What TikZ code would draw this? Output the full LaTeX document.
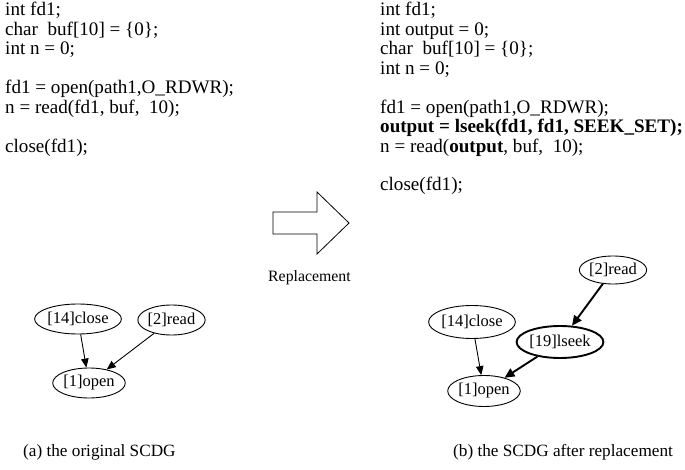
\documentclass[tikz,border=0pt]{standalone}
\usepackage{fontspec}
\setmainfont{Liberation Serif}
\usetikzlibrary{arrows.meta,shapes.geometric}

\tikzset{
  codeline/.style={anchor=base west, inner sep=0pt, font=\fontsize{19.1}{19.45}\selectfont},
  smalltext/.style={anchor=base west, inner sep=0pt, font=\fontsize{15.8}{18}\selectfont},
  captext/.style={anchor=base west, inner sep=0pt, font=\fontsize{17.2}{19}\selectfont},
  opnode/.style={draw, ellipse, line width=0.9pt, inner sep=0pt,
                 font=\fontsize{16.5}{18}\selectfont},
  thicknode/.style={opnode, line width=1.9pt},
  edge/.style={-{Triangle[length=9pt,width=7.5pt]}, line width=0.9pt},
  thickedge/.style={edge, line width=1.9pt, -{Triangle[length=10pt,width=9pt]}},
}

\begin{document}
\begin{tikzpicture}[x=1pt, y=-1pt]
  \useasboundingbox (0,0) rectangle (685,470);

  % original code
  \node[codeline] (la) at (5,16)    {int fd1;};
  \node[codeline] (lb) at (5,35.5)  {char\ \ buf[10] = \{0\};};
  \node[codeline] (lc) at (5,55)    {int n = 0;};
  \node[codeline] (ld) at (5,93.8)  {fd1 = open(path1,O\_RDWR);};
  \node[codeline] (le) at (5,113.3) {n = read(fd1, buf,\ \ 10);};
  \node[codeline] (lf) at (5,152.2) {close(fd1);};

  % code after replacement
  \node[codeline] (ra) at (380,16)    {int fd1;};
  \node[codeline] (rb) at (380,35.5)  {int output = 0;};
  \node[codeline] (rc) at (380,55)    {char\ \ buf[10] = \{0\};};
  \node[codeline] (rd) at (380,74.4)  {int n = 0;};
  \node[codeline] (re) at (380,113.3) {fd1 = open(path1,O\_RDWR);};
  \node[codeline] (rf) at (380,132.7) {\textbf{output = lseek(fd1, fd1, SEEK\_SET);}};
  \node[codeline] (rg) at (380,152.2) {n = read(\textbf{output}, buf,\ \ 10);};
  \node[codeline] (rh) at (380,191)   {close(fd1);};

  % block arrow
  \draw[line width=0.8pt, line join=miter]
    (273,212) -- (317,212) -- (317,192) -- (349,223) -- (317,254) -- (317,234) -- (273,234) -- cycle;
  \node[smalltext] (rep) at (268,282) {Replacement};

  % original SCDG
  \node[opnode, minimum width=74pt, minimum height=30pt] (close1) at (78,319) {[14]close};
  \node[opnode, minimum width=57pt, minimum height=30pt] (read1)  at (171.5,320) {[2]read};
  \node[opnode, minimum width=64pt, minimum height=30pt] (open1)  at (89,383) {[1]open};
  \draw[edge] (close1) -- (open1);
  \draw[edge] (read1) -- (open1);

  % SCDG after replacement
  \node[opnode, minimum width=70pt, minimum height=33pt] (close2) at (472,322) {[14]close};
  \node[opnode, minimum width=60pt, minimum height=28pt] (read2)  at (613,270) {[2]read};
  \node[thicknode, minimum width=68pt, minimum height=32pt] (lseek) at (560,342) {[19]lseek};
  \node[opnode, minimum width=60pt, minimum height=31pt] (open2)  at (484,391) {[1]open};
  \draw[edge] (close2) -- (open2);
  \draw[thickedge] (read2) -- (lseek);
  \draw[thickedge] (lseek) -- (open2);

  % captions
  \node[captext] (capa) at (23,456)  {(a) the original SCDG};
  \node[captext] (capb) at (453,456) {(b) the SCDG after replacement};
\end{tikzpicture}
\end{document}
